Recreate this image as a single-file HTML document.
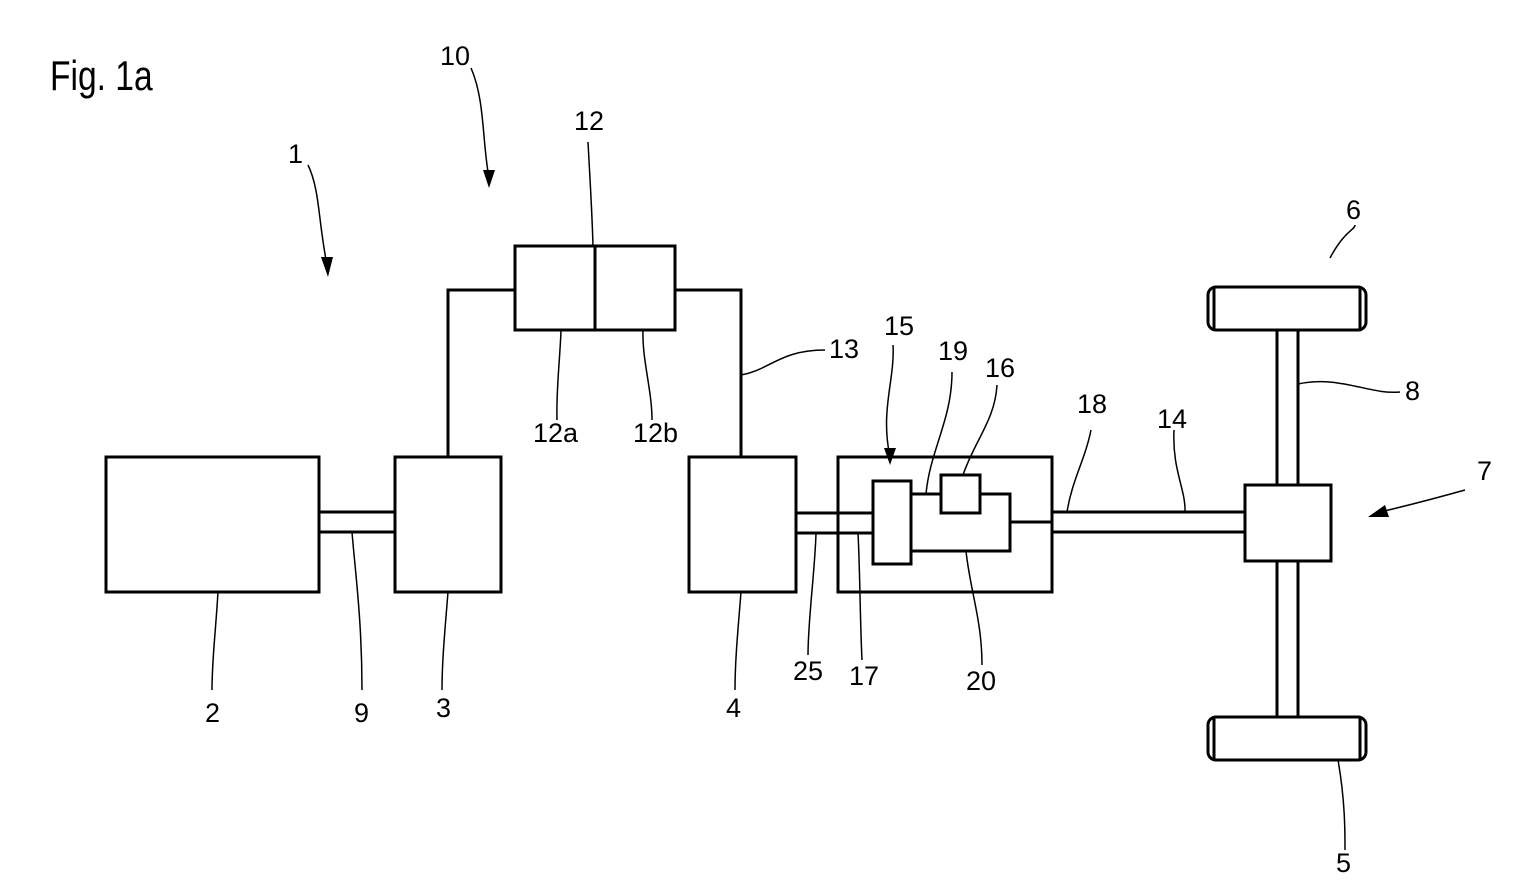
<!DOCTYPE html>
<html><head><meta charset="utf-8"><style>
html,body{margin:0;padding:0;background:#fff;}
svg{display:block}
text{font-family:"Liberation Sans",sans-serif;font-size:27px;fill:#000;}
</style></head><body>
<svg width="1520" height="891" viewBox="0 0 1520 891" xmlns="http://www.w3.org/2000/svg">
<g fill="none" stroke="#000" stroke-width="3">
<rect x="106" y="457" width="213" height="135"/>
<rect x="395" y="457" width="106" height="135"/>
<line x1="319" y1="512" x2="395" y2="512"/>
<line x1="319" y1="532" x2="395" y2="532"/>
<rect x="515" y="246" width="160" height="84"/>
<line x1="595" y1="246" x2="595" y2="330"/>
<polyline points="448,457 448,290 515,290"/>
<polyline points="675,290 741,290 741,457"/>
<rect x="689" y="457" width="107" height="135"/>
<rect x="838" y="457" width="214" height="135"/>
<line x1="796" y1="513" x2="873" y2="513"/>
<line x1="796" y1="533" x2="873" y2="533"/>
<rect x="873" y="481" width="38" height="83"/>
<rect x="941" y="475" width="39" height="38"/>
<polyline points="911,494 941,494"/>
<polyline points="980,494 1010,494 1010,551 911,551"/>
<line x1="1010" y1="522" x2="1052" y2="522"/>
<line x1="1052" y1="512" x2="1245" y2="512"/>
<line x1="1052" y1="532" x2="1245" y2="532"/>
<rect x="1245" y="485" width="86" height="76"/>
<line x1="1277" y1="330" x2="1277" y2="485"/>
<line x1="1298" y1="330" x2="1298" y2="485"/>
<line x1="1277" y1="561" x2="1277" y2="717"/>
<line x1="1298" y1="561" x2="1298" y2="717"/>
<rect x="1208" y="287" width="158" height="43" rx="8"/>
<line x1="1214" y1="288" x2="1214" y2="329"/><line x1="1360" y1="288" x2="1360" y2="329"/>
<rect x="1208" y="717" width="158" height="43" rx="8"/>
<line x1="1214" y1="718" x2="1214" y2="759"/><line x1="1360" y1="718" x2="1360" y2="759"/>
</g>
<g fill="none" stroke="#000" stroke-width="1.5">
<path d="M308,165 C320,190 318,220 327,265"/>
<path d="M471,68 C485,100 482,140 489,178"/>
<path d="M588,142 C590,180 592,210 593,246"/>
<path d="M561,330 C560,360 556,390 557,420"/>
<path d="M643,330 C642,360 652,390 652,420"/>
<path d="M741,375 C770,370 780,350 825,350"/>
<path d="M893,345 C895,380 880,410 890,457"/>
<path d="M952,372 C952,420 930,450 926,494"/>
<path d="M997,385 C995,420 975,440 963,475"/>
<path d="M1091,430 C1085,460 1072,480 1067,512"/>
<path d="M1174,430 C1172,470 1186,490 1185,512"/>
<path d="M1298,384 C1340,375 1370,395 1400,392"/>
<path d="M1330,258 C1345,230 1355,230 1355,225"/>
<path d="M1465,490 C1440,497 1410,505 1380,512"/>
<path d="M218,592 C215,640 212,660 212,690"/>
<path d="M352,532 C355,570 362,620 362,690"/>
<path d="M448,592 C445,630 442,660 442,690"/>
<path d="M741,592 C738,630 735,660 735,690"/>
<path d="M816,533 C815,570 808,620 808,655"/>
<path d="M858,533 C860,570 860,620 862,660"/>
<path d="M966,551 C970,590 982,620 982,665"/>
<path d="M1338,760 C1345,800 1345,830 1345,850"/>
</g>
<g fill="#000">
<polygon points="321,257 333,257 328,277"/>
<polygon points="483,170 495,170 489,188"/>
<polygon points="884,448 896,448 890,465"/>
<polygon points="1385,505 1389,517 1368,517"/>
</g>
<text x="50" y="90" style="font-size:42px" transform="translate(50,0) scale(0.8,1) translate(-50,0)">Fig. 1a</text>
<text x="288" y="163">1</text>
<text x="440" y="65">10</text>
<text x="574" y="130">12</text>
<text x="533" y="442">12a</text>
<text x="633" y="442">12b</text>
<text x="829" y="358">13</text>
<text x="884" y="335">15</text>
<text x="938" y="360">19</text>
<text x="985" y="377">16</text>
<text x="1077" y="413">18</text>
<text x="1157" y="428">14</text>
<text x="1346" y="219">6</text>
<text x="1405" y="400">8</text>
<text x="1477" y="480">7</text>
<text x="205" y="722">2</text>
<text x="354" y="722">9</text>
<text x="436" y="717">3</text>
<text x="726" y="717">4</text>
<text x="793" y="680">25</text>
<text x="849" y="685">17</text>
<text x="966" y="690">20</text>
<text x="1336" y="872">5</text>
</svg>
</body></html>
